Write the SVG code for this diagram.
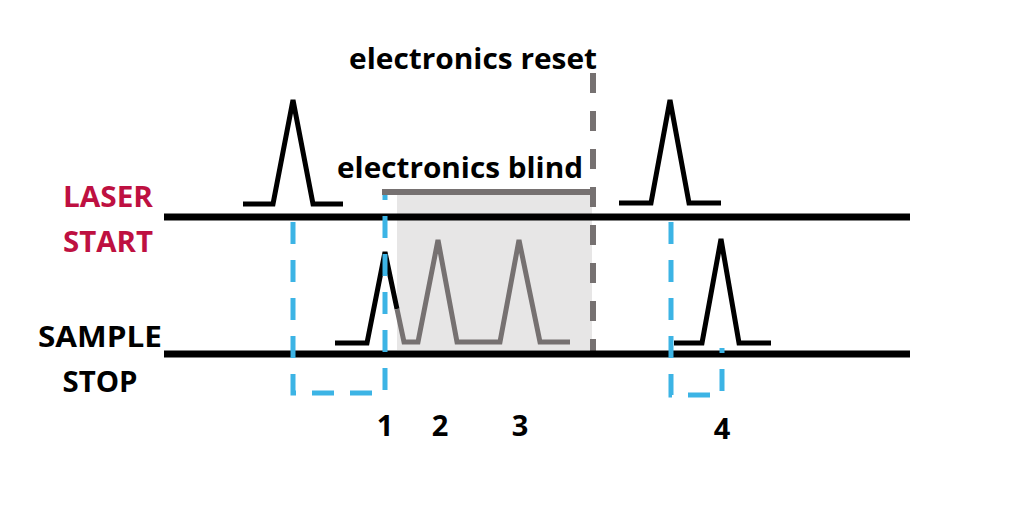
<svg xmlns="http://www.w3.org/2000/svg" width="1024" height="520" viewBox="0 0 1024 520">
<style>
.t{font-family:"Open Sans","Liberation Sans",sans-serif;font-weight:bold;}
.lbl{font-size:28px;text-anchor:middle;}
.num{font-size:29px;fill:#000;text-anchor:middle;}
.ann{font-size:29px;fill:#000;}
.axis{stroke:#000;stroke-width:7;fill:none;}
.pk{stroke:#000;stroke-width:5;fill:none;stroke-linejoin:miter;}
.pkg{stroke:#767171;stroke-width:5;fill:none;}
.blue{stroke:#3cb4e5;stroke-width:5;fill:none;stroke-dasharray:22 16;}
.gray{stroke:#767171;stroke-width:6;fill:none;}
</style>
<rect width="1024" height="520" fill="#fff"/>
<g id="blind-region">
  <rect x="397" y="195" width="195" height="155" fill="#e7e6e6"/>
  <polyline class="gray" points="382,192 593,192"/>
  <text class="t ann" x="337" y="178" textLength="246" lengthAdjust="spacingAndGlyphs">electronics blind</text>
</g>
<g id="reset">
  <line class="gray" x1="593" y1="73" x2="593" y2="352" stroke-dasharray="20 18"/>
  <text class="t ann" x="349" y="69" textLength="248" lengthAdjust="spacingAndGlyphs">electronics reset</text>
</g>
<g id="laser-start">
  <line class="axis" x1="164" y1="217" x2="910" y2="217"/>
  <text class="t lbl" x="108" y="207" fill="#be1041" textLength="90" lengthAdjust="spacingAndGlyphs">LASER</text>
  <text class="t lbl" x="108" y="252" fill="#be1041" textLength="90" lengthAdjust="spacingAndGlyphs">START</text>
  <polyline class="pk" points="243,204 273,204 293,100 313,204 343,204"/>
  <polyline class="pk" points="619,203 651,203 670,100 689,203 721,203"/>
</g>
<g id="sample-stop">
  <line class="axis" x1="164" y1="354" x2="910" y2="354"/>
  <text class="t lbl" x="100" y="347" fill="#000" textLength="124" lengthAdjust="spacingAndGlyphs">SAMPLE</text>
  <text class="t lbl" x="100" y="392" fill="#000" textLength="75" lengthAdjust="spacingAndGlyphs">STOP</text>
  <polyline class="pk" points="335,343 367,343 385,252 397,309"/>
  <polyline class="pkg" points="397,309 404,342 418,342 438,240 457,342 500,342 519,240 540,342 570,342"/>
  <polyline class="pk" points="674,343 702,343 721,239 739,343 771,343"/>
</g>
<g id="connectors">
  <path class="blue" d="M293,222 V393 H385 V195"/>
  <path class="blue" d="M671,222 V395 H722 V348"/>
</g>
<g id="numbers">
  <text class="t num" x="385" y="436">1</text>
  <text class="t num" x="440" y="436">2</text>
  <text class="t num" x="520" y="436">3</text>
  <text class="t num" x="722" y="439">4</text>
</g>
</svg>
